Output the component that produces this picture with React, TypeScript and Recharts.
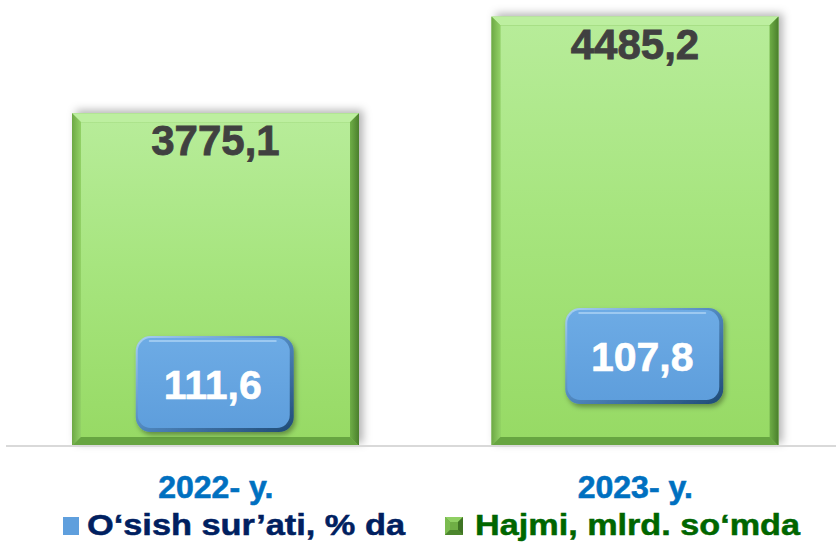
import React from 'react';
import { BarChart, Bar, Line, XAxis, YAxis, LabelList, Legend } from 'recharts';

const categories = ['2022- y.', '2023- y.'];
const volume = [3775.1, 4485.2];
const growth = [111.6, 107.8];
const seriesNames = { growth: 'O‘sish sur’ati, % da', volume: 'Hajmi, mlrd. so‘mda' };

const data = categories.map((c, i) => ({ year: c, volume: volume[i], growth: growth[i] }));

const FONT = 'Arial, "Liberation Sans", Helvetica, sans-serif';
const fmt = (v: number) => v.toFixed(1).replace('.', ',');
const boxNudge = [-1, 9];

const BarShape = (props: any) => {
  const { x, y, width: w, height: h, index } = props;
  const b = 9;
  const id = `bar${index}`;
  return (
    <g>
      <defs>
        <linearGradient id={`${id}face`} x1="0" y1="0" x2="0" y2="1">
          <stop offset="0%" stopColor="#b7ec99" />
          <stop offset="45%" stopColor="#a7e57f" />
          <stop offset="100%" stopColor="#97da65" />
        </linearGradient>
        <linearGradient id={`${id}left`} x1="0" y1="0" x2="1" y2="0">
          <stop offset="0%" stopColor="#6da845" />
          <stop offset="100%" stopColor="#93d267" />
        </linearGradient>
        <linearGradient id={`${id}right`} x1="0" y1="0" x2="1" y2="0">
          <stop offset="0%" stopColor="#6fae47" />
          <stop offset="100%" stopColor="#4a7f2c" />
        </linearGradient>
        <filter id={`${id}sh`} x="-10%" y="-10%" width="120%" height="120%">
          <feDropShadow dx="4" dy="-3" stdDeviation="4" floodColor="#000" floodOpacity="0.3" />
        </filter>
      </defs>
      <rect x={x} y={y} width={w} height={h} fill="#7fbf55" filter={`url(#${id}sh)`} />
      <polygon points={`${x},${y} ${x + w},${y} ${x + w - b},${y + b} ${x + b},${y + b}`} fill="#bdefa0" />
      <polygon points={`${x},${y} ${x + b},${y + b} ${x + b},${y + h - b} ${x},${y + h}`} fill={`url(#${id}left)`} />
      <polygon points={`${x + w},${y} ${x + w},${y + h} ${x + w - b},${y + h - b} ${x + w - b},${y + b}`} fill={`url(#${id}right)`} />
      <polygon points={`${x},${y + h} ${x + b},${y + h - b} ${x + w - b},${y + h - b} ${x + w},${y + h}`} fill="#67a541" />
      <rect x={x + b} y={y + b} width={w - 2 * b} height={h - 2 * b} fill={`url(#${id}face)`} />
    </g>
  );
};

const VolumeLabel = (props: any) => {
  const { x, y, width, value } = props;
  return (
    <text x={x + width / 2} y={y + 42} textAnchor="middle" fontFamily={FONT} fontWeight="bold" fontSize={42} fill="#404040" stroke="#404040" strokeWidth={0.8}>
      {fmt(value)}
    </text>
  );
};

const GrowthBox = (props: any) => {
  const { x, y, value, index } = props;
  const w = 158;
  const h = 96;
  const cx = x + (boxNudge[index] || 0);
  const bx = cx - w / 2;
  const by = y - h / 2;
  const id = `gb${index}`;
  return (
    <g>
      <defs>
        <linearGradient id={`${id}edge`} x1="0" y1="0" x2="1" y2="1">
          <stop offset="0%" stopColor="#a8d0f4" />
          <stop offset="50%" stopColor="#4f86bd" />
          <stop offset="100%" stopColor="#1f4a75" />
        </linearGradient>
        <linearGradient id={`${id}face`} x1="0" y1="0" x2="0" y2="1">
          <stop offset="0%" stopColor="#6dabe5" />
          <stop offset="100%" stopColor="#5e9edc" />
        </linearGradient>
        <filter id={`${id}sh`} x="-20%" y="-20%" width="140%" height="140%">
          <feDropShadow dx="2" dy="3" stdDeviation="2.5" floodColor="#000" floodOpacity="0.35" />
        </filter>
      </defs>
      <rect x={bx} y={by} width={w} height={h} rx={15} ry={15} fill={`url(#${id}edge)`} filter={`url(#${id}sh)`} />
      <rect x={bx + 2} y={by + 2} width={w - 6} height={h - 6} rx={13} ry={13} fill={`url(#${id}face)`} />
      <path d={`M ${bx + 14} ${by + 5} L ${bx + w - 18} ${by + 5}`} stroke="#a9d1f5" strokeWidth={2} strokeLinecap="round" opacity={0.8} />
      <text x={cx - 2} y={by + h / 2 + 15} textAnchor="middle" fontFamily={FONT} fontWeight="bold" fontSize={41} fill="#ffffff" stroke="#ffffff" strokeWidth={0.6}>
        {fmt(value)}
      </text>
    </g>
  );
};

const YearTick = (props: any) => {
  const { x, y, payload } = props;
  return (
    <text x={x} y={y + 52} textAnchor="middle" fontFamily={FONT} fontWeight="bold" fontSize={32} fill="#0070c0" stroke="#0070c0" strokeWidth={0.6}>
      {payload.value}
    </text>
  );
};

const renderLegend = () => (
  <div style={{ position: 'relative', height: 0, width: 0 }}>
    <svg width={836} height={544} style={{ position: 'absolute', left: 0, top: 0, overflow: 'visible', pointerEvents: 'none' }}>
      <rect x={63} y={517} width={16} height={18} fill="#5f9fdd" />
      <text x={87} y={535} fontFamily={FONT} fontWeight="bold" fontSize={30} fill="#002060" stroke="#002060" strokeWidth={0.5} textLength={318} lengthAdjust="spacingAndGlyphs">
        {seriesNames.growth}
      </text>
      <g>
        <rect x={445} y={517} width={18} height={18} fill="#5b9a37" />
        <polygon points="445,517 463,517 458,522 450,522" fill="#8fcf63" />
        <polygon points="445,517 450,522 450,530 445,535" fill="#7bbb50" />
        <polygon points="463,517 463,535 458,530 458,522" fill="#3f7424" />
        <polygon points="445,535 450,530 458,530 463,535" fill="#4c862d" />
        <rect x={450} y={522} width={8} height={8} fill="#6fae45" />
      </g>
      <text x={475} y={535} fontFamily={FONT} fontWeight="bold" fontSize={30} fill="#006600" stroke="#006600" strokeWidth={0.5} textLength={325} lengthAdjust="spacingAndGlyphs">
        {seriesNames.volume}
      </text>
    </svg>
  </div>
);

export default function App() {
  return (
    <div style={{ position: 'absolute', left: 0, top: 0, width: 836, height: 544, overflow: 'hidden', background: '#fff' }}>
      <BarChart width={845} height={544} data={data} margin={{ top: 1, right: 0, left: 6, bottom: 0 }} barSize={287}>
        <XAxis
          dataKey="year"
          height={98}
          tickSize={0}
          tickMargin={0}
          tickLine={false}
          axisLine={{ stroke: '#d9d9d9', strokeWidth: 2 }}
          tick={<YearTick />}
          interval={0}
        />
        <YAxis yAxisId="vol" hide domain={[1330, 4600]} />
        <YAxis yAxisId="rate" hide reversed domain={[59.6, 120]} />
        <Bar yAxisId="vol" dataKey="volume" name={seriesNames.volume} shape={<BarShape />} isAnimationActive={false}>
          <LabelList dataKey="volume" content={<VolumeLabel />} />
        </Bar>
        <Line
          yAxisId="rate"
          dataKey="growth"
          name={seriesNames.growth}
          stroke="none"
          dot={false}
          activeDot={false}
          isAnimationActive={false}
        >
          <LabelList dataKey="growth" content={<GrowthBox />} />
        </Line>
        <Legend content={renderLegend} wrapperStyle={{ top: 0, left: 0, width: 0, height: 0 }} />
      </BarChart>
    </div>
  );
}
